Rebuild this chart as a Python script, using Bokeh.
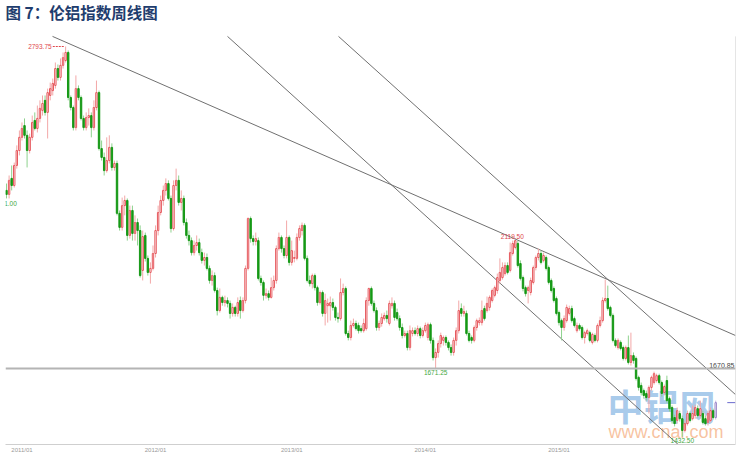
import pandas as pd
from bokeh.plotting import figure
from bokeh.models import ColumnDataSource, Range1d, FixedTicker, LinearAxis, Span, Label
from bokeh.core.properties import value
from bokeh.embed import file_html
from bokeh.resources import INLINE

# ---------------- data (weekly OHLC) ----------------
weeks = pd.date_range("2010-12-20", periods=277, freq="7D")

opens = [
    2292, 2278, 2334, 2309, 2379, 2431, 2477, 2518, 2484, 2431,
    2477, 2536, 2508, 2543, 2571, 2606, 2564, 2623, 2640, 2658,
    2717, 2686, 2728, 2745, 2773, 2616, 2581, 2511, 2647, 2616,
    2543, 2511, 2546, 2553, 2511, 2581, 2633, 2438, 2407, 2361,
    2396, 2442, 2372, 2386, 2212, 2163, 2239, 2257, 2135, 2222,
    2142, 2180, 2152, 2013, 2135, 2055, 2006, 2020, 2072, 2152,
    2215, 2257, 2292, 2316, 2264, 2159, 2309, 2327, 2250, 2264,
    2180, 2135, 2117, 2075, 2100, 2110, 2075, 2048, 2058, 2020,
    1978, 1995, 1943, 1873, 1919, 1901, 1908, 1898, 1863, 1884,
    1863, 1908, 1873, 1908, 2020, 2194, 2124, 2114, 2117, 1985,
    1971, 1926, 1932, 1919, 1953, 1978, 2089, 2128, 2089, 2065,
    2128, 2041, 2055, 2055, 2128, 2152, 2170, 2055, 1978, 1967,
    1995, 1953, 1901, 1936, 1863, 1890, 1890, 1901, 1884, 1849,
    1845, 1936, 1950, 1793, 1779, 1821, 1828, 1821, 1810, 1803,
    1810, 1908, 1950, 1898, 1873, 1814, 1828, 1845, 1856, 1828,
    1890, 1898, 1866, 1845, 1814, 1786, 1793, 1744, 1793, 1803,
    1793, 1810, 1786, 1803, 1779, 1824, 1769, 1709, 1727, 1758,
    1769, 1779, 1762, 1744, 1727, 1769, 1803, 1880, 1863, 1863,
    1793, 1779, 1769, 1814, 1831, 1831, 1880, 1873, 1884, 1908,
    1926, 1943, 1978, 1988, 2002, 2030, 2013, 2072, 2093, 2107,
    2037, 1988, 1953, 1943, 1936, 1971, 2023, 2058, 2072, 2048,
    2058, 2023, 1978, 1950, 1915, 1866, 1838, 1814, 1838, 1863,
    1880, 1845, 1803, 1821, 1814, 1779, 1793, 1796, 1762, 1786,
    1769, 1821, 1838, 1908, 1915, 1884, 1856, 1769, 1744, 1762,
    1744, 1706, 1744, 1692, 1716, 1706, 1640, 1612, 1594, 1584,
    1570, 1605, 1622, 1629, 1646, 1622, 1587, 1629, 1566, 1535,
    1500, 1490, 1514, 1496, 1455, 1479, 1514, 1496, 1507, 1531,
    1507, 1514, 1496, 1483, 1490, 1524, 1500,
]
highs = [
    2316, 2344, 2379, 2389, 2449, 2501, 2529, 2543, 2501, 2490,
    2553, 2564, 2588, 2606, 2623, 2623, 2647, 2668, 2682, 2738,
    2731, 2752, 2773, 2793.75, 2780, 2623, 2588, 2693, 2658, 2623,
    2553, 2564, 2578, 2564, 2606, 2675, 2640, 2466, 2424, 2477,
    2484, 2456, 2396, 2396, 2222, 2267, 2274, 2264, 2239, 2239,
    2205, 2194, 2170, 2152, 2145, 2065, 2041, 2100, 2170, 2239,
    2274, 2309, 2334, 2327, 2274, 2327, 2368, 2344, 2292, 2274,
    2194, 2152, 2128, 2117, 2135, 2124, 2089, 2075, 2072, 2030,
    2013, 2006, 1953, 1950, 1925, 1925, 1919, 1908, 1898, 1890,
    1919, 1922, 1919, 2030, 2198, 2201, 2135, 2145, 2128, 1995,
    1978, 1950, 1943, 1988, 1995, 2100, 2145, 2135, 2100, 2187,
    2135, 2117, 2082, 2142, 2170, 2180, 2177, 2065, 1995, 2002,
    2002, 1960, 1943, 1943, 1932, 1915, 1922, 1915, 1890, 1866,
    1985, 1967, 1957, 1803, 1838, 1845, 1838, 1831, 1821, 1845,
    1919, 1953, 1957, 1908, 1884, 1838, 1863, 1866, 1873, 1908,
    1919, 1908, 1880, 1856, 1828, 1803, 1803, 1821, 1814, 1814,
    1821, 1817, 1814, 1831, 1831, 1831, 1779, 1741, 1769, 1796,
    1786, 1786, 1769, 1755, 1779, 1814, 1908, 1898, 1890, 1873,
    1803, 1786, 1821, 1845, 1849, 1908, 1890, 1922, 1926, 1950,
    1960, 2002, 2055, 2041, 2041, 2041, 2110, 2117, 2119.5, 2117,
    2048, 1995, 1960, 1960, 1988, 2030, 2065, 2089, 2082, 2075,
    2065, 2030, 1985, 1957, 1922, 1873, 1845, 1856, 1894, 1890,
    1890, 1852, 1831, 1828, 1821, 1803, 1810, 1803, 1796, 1793,
    1828, 1852, 1919, 1981, 1960, 1890, 1863, 1776, 1776, 1769,
    1751, 1751, 1786, 1796, 1727, 1713, 1646, 1622, 1601, 1594,
    1612, 1646, 1660, 1653, 1653, 1629, 1615, 1646, 1573, 1542,
    1510, 1535, 1524, 1507, 1490, 1524, 1521, 1542, 1545, 1542,
    1559, 1524, 1507, 1524, 1535, 1531, 1559,
]
lows = [
    2264, 2264, 2292, 2302, 2368, 2414, 2466, 2473, 2372, 2421,
    2466, 2501, 2494, 2529, 2553, 2553, 2473, 2606, 2623, 2647,
    2675, 2675, 2717, 2738, 2606, 2571, 2501, 2501, 2606, 2536,
    2501, 2501, 2518, 2477, 2501, 2571, 2431, 2396, 2344, 2354,
    2386, 2361, 2361, 2205, 2152, 2152, 2205, 2117, 2124, 2117,
    2117, 2100, 1988, 1978, 2044, 1995, 1967, 2013, 2058, 2135,
    2205, 2239, 2274, 2257, 2145, 2152, 2292, 2239, 2222, 2170,
    2124, 2100, 2065, 2065, 2082, 2065, 2037, 2030, 2013, 1967,
    1960, 1936, 1856, 1866, 1890, 1887, 1884, 1845, 1852, 1852,
    1852, 1845, 1866, 1898, 2013, 2110, 2100, 2100, 1978, 1960,
    1908, 1915, 1908, 1915, 1943, 1967, 2082, 2075, 2055, 2055,
    2030, 2030, 2041, 2048, 2117, 2135, 2048, 1971, 1957, 1950,
    1943, 1890, 1894, 1852, 1821, 1831, 1838, 1873, 1838, 1831,
    1838, 1926, 1786, 1769, 1769, 1814, 1803, 1793, 1796, 1796,
    1803, 1890, 1890, 1866, 1803, 1803, 1817, 1838, 1831, 1821,
    1880, 1838, 1838, 1803, 1776, 1779, 1734, 1734, 1783, 1786,
    1783, 1776, 1779, 1796, 1769, 1758, 1699, 1671.25, 1709, 1744,
    1751, 1751, 1734, 1716, 1716, 1751, 1793, 1852, 1852, 1786,
    1762, 1758, 1762, 1803, 1821, 1821, 1838, 1866, 1873, 1901,
    1919, 1932, 1967, 1981, 1995, 1999, 2006, 2065, 2086, 2023,
    1978, 1940, 1922, 1898, 1926, 1964, 2013, 2048, 2034, 2041,
    2013, 1964, 1936, 1901, 1856, 1821, 1769, 1803, 1831, 1856,
    1831, 1814, 1796, 1803, 1772, 1758, 1786, 1762, 1755, 1762,
    1762, 1814, 1831, 1901, 1873, 1849, 1762, 1744, 1737, 1734,
    1699, 1699, 1685, 1681, 1688, 1629, 1594, 1577, 1566, 1559,
    1514, 1594, 1615, 1622, 1615, 1573, 1577, 1552, 1521, 1479,
    1469, 1479, 1486, 1432.5, 1448, 1472, 1483, 1490, 1496, 1500,
    1496, 1476, 1472, 1472, 1483, 1493, 1493,
]
closes = [
    2278, 2327, 2309, 2379, 2431, 2477, 2508, 2484, 2431, 2477,
    2529, 2508, 2543, 2578, 2595, 2564, 2633, 2647, 2665, 2717,
    2686, 2728, 2755, 2773, 2616, 2581, 2511, 2647, 2616, 2543,
    2511, 2546, 2553, 2511, 2581, 2633, 2438, 2407, 2361, 2396,
    2442, 2372, 2386, 2212, 2163, 2239, 2257, 2135, 2222, 2142,
    2180, 2152, 1995, 2131, 2055, 2006, 2020, 2072, 2152, 2215,
    2257, 2292, 2316, 2264, 2159, 2309, 2327, 2250, 2264, 2180,
    2135, 2117, 2075, 2100, 2110, 2075, 2048, 2058, 2020, 1978,
    1995, 1943, 1873, 1919, 1901, 1908, 1898, 1863, 1884, 1863,
    1901, 1873, 1908, 2020, 2194, 2124, 2114, 2124, 1985, 1971,
    1926, 1932, 1919, 1953, 1978, 2089, 2128, 2089, 2065, 2128,
    2041, 2082, 2058, 2128, 2159, 2170, 2055, 1978, 1967, 1995,
    1953, 1901, 1936, 1863, 1908, 1898, 1901, 1884, 1849, 1845,
    1936, 1950, 1793, 1779, 1821, 1828, 1810, 1803, 1803, 1828,
    1908, 1950, 1898, 1873, 1814, 1828, 1849, 1856, 1845, 1898,
    1898, 1849, 1845, 1814, 1786, 1793, 1744, 1803, 1803, 1793,
    1810, 1786, 1803, 1821, 1824, 1769, 1709, 1727, 1758, 1786,
    1779, 1762, 1744, 1727, 1769, 1803, 1873, 1863, 1870, 1793,
    1769, 1769, 1814, 1838, 1838, 1873, 1845, 1898, 1919, 1943,
    1953, 1988, 2006, 2023, 2030, 2006, 2075, 2107, 2117, 2030,
    1985, 1950, 1932, 1953, 1978, 2023, 2058, 2072, 2041, 2065,
    2020, 1971, 1943, 1908, 1863, 1831, 1814, 1845, 1884, 1880,
    1838, 1821, 1821, 1810, 1779, 1796, 1803, 1769, 1790, 1769,
    1821, 1838, 1908, 1915, 1880, 1856, 1769, 1751, 1769, 1741,
    1706, 1744, 1692, 1716, 1699, 1636, 1605, 1587, 1577, 1570,
    1605, 1640, 1653, 1646, 1622, 1584, 1608, 1559, 1531, 1490,
    1479, 1524, 1496, 1455, 1479, 1514, 1490, 1514, 1535, 1507,
    1531, 1483, 1479, 1514, 1524, 1500, 1552,
]

tick_years = [2011, 2012, 2013, 2014, 2015]
tick_labels = ["2011/01", "2012/01", "2013/01", "2014/01", "2015/01"]

level_price = 1670.85
level_label = "1670.85"

# trend lines: (week index, price) start / end
trend_start_week = [17.9, 86.0, 129.2]
trend_start_price = [2829, 2829, 2829]
trend_end_week = [283.7, 283.7, 283.7]
trend_end_price = [1786, 1225, 1580]

title_text = "图 7：伦铝指数周线图"

# ---------------- figure ----------------
n = len(closes)
xs = list(range(n))
X_START, X_END = -0.4, 283.7
Y_START, Y_END = 1406, 2870.5
LEFT, FRAME_W, FRAME_H, TOP = 5, 730, 420, 24

p = figure(frame_width=FRAME_W, frame_height=FRAME_H, output_backend="svg",
           toolbar_location=None, x_range=Range1d(X_START, X_END),
           y_range=Range1d(Y_START, Y_END), y_axis_location=None,
           min_border_left=LEFT, min_border_right=5, min_border_top=TOP,
           min_border_bottom=0, background_fill_color="white",
           border_fill_color="white", outline_line_color=None)
p.xgrid.visible = False
p.ygrid.visible = False

p.title.text = title_text
p.title.align = "left"
p.title.vertical_align = "top"
p.title.text_font = "Noto Sans CJK SC"
p.title.text_font_size = "15.5px"
p.title.text_font_style = "bold"
p.title.text_color = "#1f3d6e"
p.title.offset = 0
p.title.standoff = 0

UP_LINE, UP_WICK = "#e6585d", "#f3a8a8"
DN_FILL, DN_WICK = "#169916", "#8ed28e"

up = [c >= o for o, c in zip(opens, closes)]
wick_col = [UP_WICK if u else DN_WICK for u in up]
body_line = [UP_LINE if u else DN_FILL for u in up]
body_fill = ["white" if u else DN_FILL for u in up]
body_line[-1] = "#9b86c9"
wick_col[-1] = "#c8b8e0"

src = ColumnDataSource(dict(
    x=xs, open=opens, high=highs, low=lows, close=closes,
    top=[max(o, c) for o, c in zip(opens, closes)],
    bottom=[min(o, c) for o, c in zip(opens, closes)],
    wick=wick_col, bline=body_line, bfill=body_fill,
))

# trend lines
p.segment(x0=trend_start_week, y0=trend_start_price, x1=trend_end_week,
          y1=trend_end_price, line_color="#707070", line_width=1)

# support level
p.add_layout(Span(location=level_price, dimension="width",
                  line_color="#b4b4b4", line_width=2))

# watermark (under the candles)
p.add_layout(Label(x=602, y=40, x_units="screen", y_units="screen",
                   text="中铝网", text_font="Noto Sans CJK SC",
                   text_font_style="bold", text_font_size="36px",
                   text_color="#92bde6", text_alpha=0.8,
                   text_baseline="middle", level="underlay"))
p.add_layout(Label(x=603, y=13, x_units="screen", y_units="screen",
                   text="www.cnal.com", text_font="Liberation Sans",
                   text_font_size="18px", text_color="#f6b890",
                   text_alpha=0.85, text_baseline="middle", level="underlay"))

p.segment(x0="x", y0="low", x1="x", y1="high", line_color="wick",
          line_width=1, source=src)
p.vbar(x="x", width=0.55, top="top", bottom="bottom", fill_color="bfill",
       line_color="bline", line_width=1, source=src)

# last price marker
p.segment(x0=[280.5], y0=[closes[-1]], x1=[X_END], y1=[closes[-1]],
          line_color="#6a6acd", line_width=1)

# right border (from the top of the chart area)
p.segment(x0=[X_END], y0=[trend_start_price[0]], x1=[X_END], y1=[Y_START],
          line_color="#cccccc", line_width=1)

LAB_FONT = value("Liberation Sans")
RED_T, GRN_T = "#e0474c", "#3fa83f"

i_max = highs.index(max(highs))
i_min = lows.index(min(lows))
p.text(x=[i_max], y=[highs[i_max]], text=[f"{highs[i_max]:.2f}"],
       x_offset=-14, text_align="right", text_baseline="middle",
       text_font=LAB_FONT, text_font_size="6.5px", text_color=RED_T)
p.segment(x0=[i_max - 5.0], y0=[highs[i_max]], x1=[i_max - 0.6],
          y1=[highs[i_max]], line_color=RED_T, line_width=1, line_dash="2 1")

p.text(x=[0], y=[lows[0]], text=["1.00"], x_offset=4, y_offset=3,
       text_align="center", text_baseline="top", text_font=LAB_FONT,
       text_font_size="6.5px", text_color=GRN_T)

i_low14 = lows.index(1671.25)
p.text(x=[i_low14], y=[lows[i_low14]], text=[f"{lows[i_low14]:.2f}"],
       y_offset=2, text_align="center", text_baseline="top",
       text_font=LAB_FONT, text_font_size="6.5px", text_color=GRN_T)

i_hi14 = highs.index(2119.5)
p.text(x=[i_hi14], y=[highs[i_hi14]], text=[f"{highs[i_hi14]:.2f}"],
       x_offset=-3, y_offset=-1, text_align="center", text_baseline="bottom",
       text_font=LAB_FONT, text_font_size="6.5px", text_color=RED_T)

p.text(x=[i_min], y=[lows[i_min]], text=[f"{lows[i_min]:.2f}"],
       y_offset=1, text_align="center", text_baseline="top",
       text_font=LAB_FONT, text_font_size="6.5px", text_color=GRN_T)

p.text(x=[X_END], y=[level_price], text=[level_label], x_offset=-1,
       y_offset=-1, text_align="right", text_baseline="bottom",
       text_font=LAB_FONT, text_font_size="7px", text_color="#444444")

# x axis (year labels)
years = list(weeks.year)
tick_pos = [years.index(y) + 4 for y in tick_years]
ax = p.xaxis[0]
ax.ticker = FixedTicker(ticks=tick_pos)
ax.major_label_overrides = {t: lab for t, lab in zip(tick_pos, tick_labels)}
ax.axis_line_color = "#cfcfcf"
ax.major_tick_line_color = None
ax.minor_tick_line_color = None
ax.major_tick_out = 0
ax.major_tick_in = 0
ax.major_label_standoff = 2
ax.major_label_text_font = "Liberation Sans"
ax.major_label_text_font_size = "6px"
ax.major_label_text_color = "#9a9a9a"

ax2 = LinearAxis(ticker=FixedTicker(ticks=[]), axis_line_color="#cfcfcf",
                 major_tick_line_color=None, minor_tick_line_color=None,
                 major_tick_out=0, major_tick_in=0, major_label_standoff=0,
                 major_label_text_font_size="0px")
p.add_layout(ax2, "below")

open("out.html", "w").write(file_html(p, INLINE))
